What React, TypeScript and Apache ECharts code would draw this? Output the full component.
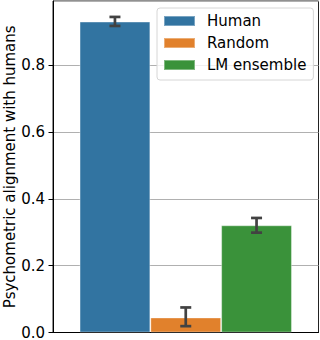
import React, { useEffect, useRef } from "react";
import * as echarts from "echarts";

const categories = [""];
const hues = ["Human", "Random", "LM ensemble"];
const values = [0.931, 0.045, 0.321];
const errLow = [0.918, 0.019, 0.299];
const errHigh = [0.945, 0.075, 0.343];
const colors = ["#3274a1", "#e1812c", "#3a923a"];
const yTicks = [0, 0.2, 0.4, 0.6, 0.8];

const FONT = "DejaVu Sans";

export default function App() {
  const ref = useRef<HTMLDivElement>(null);
  useEffect(() => {
    if (!ref.current) return;
    const chart = echarts.init(ref.current, undefined, { renderer: "svg" });
    const barSeries = hues.map((h, i) => ({
      type: "bar",
      name: h,
      data: [values[i]],
      barGap: "0%",
      barCategoryGap: "20%",
      itemStyle: { color: colors[i], borderColor: "rgba(255,255,255,0.35)", borderWidth: 1 },
      z: 2,
    }));
    const errData = hues.map((_, i) => [0, errLow[i], errHigh[i], i]);
    chart.setOption({
      animation: false,
      textStyle: { fontFamily: FONT },
      grid: {
        left: 53,
        right: 1.5,
        top: 1,
        bottom: 7.5,
        show: true,
        borderColor: "#222",
        borderWidth: 1,
        containLabel: false,
        outerBoundsMode: "none",
      },
      legend: {
        orient: "vertical",
        left: 157,
        top: 8,
        data: hues,
        itemWidth: 31,
        itemHeight: 10,
        itemGap: 4,
        icon: "rect",
        padding: [4, 7, 6, 6],
        borderColor: "#d6d6d6",
        borderWidth: 1,
        borderRadius: 3,
        backgroundColor: "rgba(255,255,255,0.8)",
        textStyle: { fontFamily: FONT, fontSize: 15, color: "#000", lineHeight: 18, padding: [0, 0, 0, 7] },
      },
      xAxis: {
        type: "category",
        data: categories,
        axisLine: { show: true, lineStyle: { color: "#000", width: 1 } },
        axisTick: { show: false },
        axisLabel: { show: false },
      },
      yAxis: {
        type: "value",
        min: 0,
        max: 0.9927,
        interval: 0.2,
        name: "Psychometric alignment with humans",
        nameLocation: "middle",
        nameGap: 36,
        nameMoveOverlap: false,
        nameTextStyle: { fontFamily: FONT, fontSize: 15, color: "#000" },
        axisLine: { show: true, lineStyle: { color: "#000", width: 1 } },
        axisTick: { show: true, length: 4.5, lineStyle: { color: "#000" } },
        axisLabel: {
          fontFamily: FONT,
          fontSize: 15,
          color: "#000",
          margin: 8,
          showMaxLabel: false,
          formatter: (v: number) => (yTicks.some((t) => Math.abs(t - v) < 1e-6) ? v.toFixed(1) : ""),
        },
        splitLine: { show: true, lineStyle: { color: "#b0b0b0", width: 1 } },
      },
      series: [
        ...barSeries,
        {
          type: "custom",
          name: "err",
          data: errData,
          encode: { x: 0, y: [1, 2] },
          z: 10,
          renderItem: (params: any, api: any) => {
            const lo = api.value(1);
            const hi = api.value(2);
            const idx = api.value(3);
            const pLo = api.coord([api.value(0), lo]);
            const pHi = api.coord([api.value(0), hi]);
            const band = api.size([1, 0])[0];
            const bw = (band * 0.8) / hues.length;
            const x = pLo[0] + (idx - (hues.length - 1) / 2) * bw;
            const cap = 5.5;
            const style = { stroke: "#424242", lineWidth: 2.7, fill: "none" };
            return {
              type: "group",
              children: [
                { type: "line", shape: { x1: x, y1: pLo[1], x2: x, y2: pHi[1] }, style },
                { type: "line", shape: { x1: x - cap, y1: pLo[1], x2: x + cap, y2: pLo[1] }, style },
                { type: "line", shape: { x1: x - cap, y1: pHi[1], x2: x + cap, y2: pHi[1] }, style },
              ],
            };
          },
        },
      ],
    });
    return () => chart.dispose();
  }, []);
  return <div ref={ref} style={{ width: 320, height: 340, position: "absolute", left: 0, top: 0 }} />;
}
